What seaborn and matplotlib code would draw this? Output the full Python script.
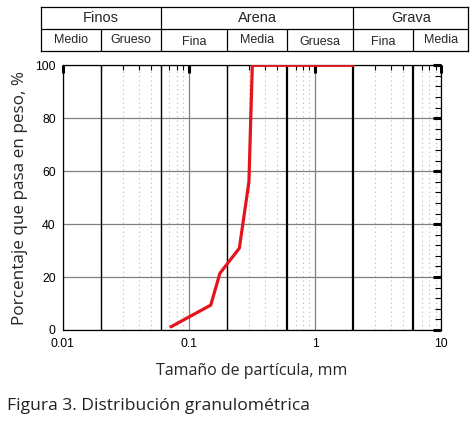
import numpy as np
import pandas as pd
import seaborn as sns
import matplotlib.pyplot as plt
from matplotlib.ticker import FixedLocator, NullFormatter, MultipleLocator

# granulometric curve
size_mm = [0.072, 0.149, 0.176, 0.251, 0.299, 0.318, 2.0]
passing = [1.2, 9.4, 21.4, 30.9, 56.0, 100.0, 100.0]

# soil classification limits (mm)
thin_limits = [0.02, 0.06, 0.2]
thick_limits = [0.6, 2.0, 6.0]
group_names = ['Finos', 'Arena', 'Grava']
group_limits = [0.06, 2.0]
sub_names = ['Medio', 'Grueso', 'Fina', 'Media', 'Gruesa', 'Fina', 'Media']
sub_limits = [0.02, 0.06, 0.2, 0.6, 2.0, 6.0]

W, H = 475, 422
ax_l, ax_r, ax_t, ax_b = 62.7, 441.3, 65.3, 330.0

sns.set_style('white')
plt.rcParams['font.family'] = ['Liberation Sans', 'DejaVu Sans']

fig = plt.figure(figsize=(W / 100, H / 100), dpi=100)
ax = fig.add_axes([ax_l / W, 1 - ax_b / H, (ax_r - ax_l) / W, (ax_b - ax_t) / H])

df = pd.DataFrame({'size': size_mm, 'passing': passing})
sns.lineplot(data=df, x='size', y='passing', ax=ax, color='#e3141c', lw=2.3,
             sort=False, zorder=5)

ax.set_xscale('log')
ax.set_xlim(0.01, 10)
ax.set_ylim(0, 100)

# grids
ax.set_yticks([0, 20, 40, 60, 80, 100])
ax.yaxis.set_minor_locator(MultipleLocator(4))
ax.set_xticks([0.01, 0.1, 1, 10])
ax.set_xticklabels(['0.01', '0.1', '1', '10'])
minors = [m * d for d in [0.01, 0.1, 1] for m in range(2, 10)]
ax.xaxis.set_minor_locator(FixedLocator(minors))
ax.xaxis.set_minor_formatter(NullFormatter())
ax.grid(True, which='major', color='#808080', lw=0.9)
ax.grid(True, which='minor', axis='x', color='#b8b8b8', lw=0.8, ls=(0, (1, 3)))

for x in thin_limits:
    ax.axvline(x, color='black', lw=1.0, zorder=3)
for x in thick_limits:
    ax.axvline(x, color='black', lw=1.6, zorder=3)

ax.tick_params(which='major', direction='in', length=6, width=2.2,
               top=True, right=True, labelsize=8.8, colors='black')
ax.tick_params(axis='x', which='major', pad=6)
ax.tick_params(axis='y', which='major', pad=5)
ax.tick_params(which='minor', direction='in', length=3.5, width=0.8,
               top=True, right=True, colors='black')
ax.tick_params(axis='y', which='minor', length=4)
for s in ax.spines.values():
    s.set_color('black')
    s.set_linewidth(0.9)

lab_font = ['Open Sans', 'DejaVu Sans']
ax.set_xlabel('Tamaño de partícula, mm', fontsize=11.5, family=lab_font, labelpad=9)
ax.set_ylabel('Porcentaje que pasa en peso, %', fontsize=12.3, family=lab_font, labelpad=5)

# classification table above the plot
tl, tr, tt, tb = 40.7, 468.3, 7.3, 51.0
dec = (ax_r - ax_l) / 3
xl = 10 ** (-2 + (tl - ax_l) / dec)
xr = 10 ** (-2 + (tr - ax_l) / dec)
tab = fig.add_axes([tl / W, 1 - tb / H, (tr - tl) / W, (tb - tt) / H])
tab.set_xscale('log')
tab.set_xlim(xl, xr)
tab.set_ylim(0, 2)
tab.set_xticks([])
tab.set_yticks([])
tab.minorticks_off()
for s in tab.spines.values():
    s.set_color('black')
    s.set_linewidth(0.9)
tab.axhline(1, color='black', lw=0.9)
for x in group_limits:
    tab.plot([x, x], [1, 2], color='black', lw=0.9)
for x in sub_limits:
    tab.plot([x, x], [0, 1], color='black', lw=0.9)

edges = [xl] + group_limits + [xr]
for i, name in enumerate(group_names):
    xc = np.sqrt(edges[i] * edges[i + 1])
    tab.text(xc, 1.52, name, ha='center', va='center', fontsize=10.5)
edges = [xl] + sub_limits + [xr]
for i, name in enumerate(sub_names):
    xc = np.sqrt(edges[i] * edges[i + 1])
    yo = 0.42 if name in ('Fina', 'Gruesa') else 0.5
    tab.text(xc, yo, name, ha='center', va='center', fontsize=9)

fig.text(7 / W, 1 - 406 / H, 'Figura 3. Distribución granulométrica',
         ha='left', va='center', fontsize=12.6, family=lab_font, color='#222222')

fig.savefig('out.png', dpi=100)
